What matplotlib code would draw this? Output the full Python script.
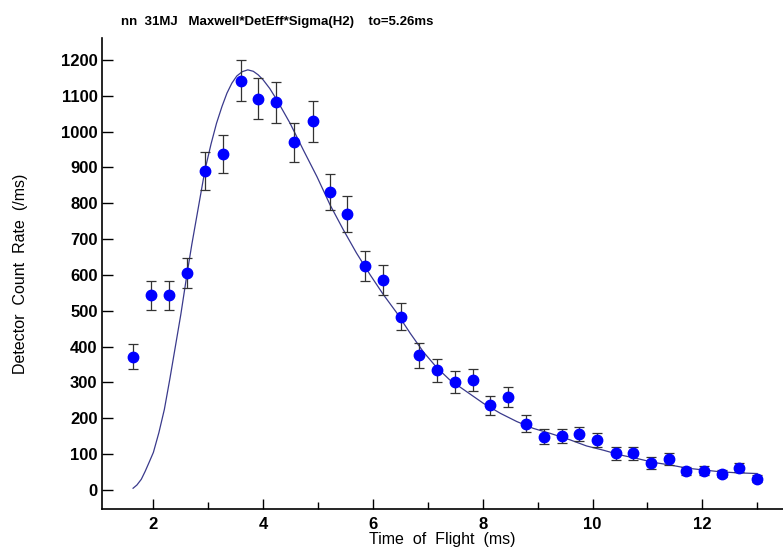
import matplotlib.pyplot as plt
from matplotlib.ticker import MultipleLocator

# measured points (time of flight in ms, count rate in /ms)
tof = [1.63, 1.96, 2.29, 2.61, 2.94, 3.27, 3.59, 3.91, 4.24, 4.57, 4.90, 5.22,
       5.53, 5.86, 6.19, 6.51, 6.84, 7.17, 7.50, 7.82, 8.13, 8.46, 8.79, 9.12,
       9.44, 9.76, 10.09, 10.42, 10.74, 11.07, 11.39, 11.71, 12.03, 12.35, 12.67, 13.00]
rate = [372, 543, 543, 606, 891, 938, 1142, 1092, 1081, 970, 1029, 831,
        770, 625, 586, 484, 376, 334, 302, 306, 236, 259, 185, 149,
        150, 156, 140, 102, 102, 75, 86, 53, 54, 46, 62, 31]
rate_err = [34, 41, 40, 42, 53, 53, 58, 57, 57, 54, 57, 50,
            49, 43, 42, 38, 35, 32, 31, 31, 27, 27, 23, 20,
            20, 20, 20, 17, 17, 16, 16, 12, 12, 10, 12, 10]

# fitted curve
fit_x = [1.63, 1.70, 1.78, 1.85, 1.93, 2.00, 2.10, 2.20, 2.30, 2.40, 2.50, 2.61,
         2.70, 2.79, 2.94, 3.05, 3.15, 3.25, 3.34, 3.43, 3.52, 3.62, 3.72, 3.82,
         3.91, 4.00, 4.12, 4.25, 4.49, 4.73, 4.98, 5.22, 5.46, 5.70, 5.95,
         6.19, 6.43, 6.68, 6.92, 7.16, 7.40, 7.71, 8.01, 8.32, 8.62, 8.92, 9.23,
         9.59, 9.89, 10.2, 10.5, 10.81, 11.11, 11.41, 11.72, 12.02, 12.32, 12.63, 13.0]
fit_y = [5, 14, 30, 52, 80, 105, 160, 225, 310, 400, 490, 600,
         685, 763, 893, 965, 1023, 1070, 1107, 1135, 1155, 1167, 1172, 1168,
         1158, 1144, 1120, 1088, 1023, 949, 874, 795, 726, 661, 600,
         545, 495, 437, 385, 342, 307, 274, 242, 214, 191, 172, 158,
         140, 123, 111, 98, 88, 77, 70, 61, 56, 51, 48, 46]

y_ticks = list(range(0, 1201, 100))

fig = plt.figure(figsize=(7.83, 5.5), dpi=100)
ax = fig.add_axes([0.130, 0.0745, 0.870, 0.8565])

ax.plot(fit_x, fit_y, '-', color='#3a3a8c', lw=0.9, zorder=2)
ax.errorbar(tof, rate, yerr=rate_err, fmt='o', color='#0000ff', ms=7.5,
            ecolor='#333333', elinewidth=0.9, capsize=3.5, capthick=0.9, zorder=3)

ax.set_xlim(1.06, 13.47)
ax.set_ylim(-53, 1261)
ax.set_yticks(y_ticks)
ax.xaxis.set_major_locator(MultipleLocator(2))
ax.xaxis.set_minor_locator(MultipleLocator(1))
ax.set_xticks([2, 4, 6, 8, 10, 12])

for s in ['top', 'right']:
    ax.spines[s].set_visible(False)
for s in ['left', 'bottom']:
    ax.spines[s].set_linewidth(1.2)

ax.tick_params(axis='y', direction='in', length=8, width=1, pad=3)
ax.tick_params(axis='x', which='major', direction='in', length=7.5, width=1, pad=6)
ax.tick_params(axis='x', which='minor', direction='in', length=5, width=1)
for lab in ax.get_xticklabels() + ax.get_yticklabels():
    lab.set_fontfamily('Liberation Sans')
    lab.set_fontweight('bold')
    lab.set_fontsize(12)

ax.set_xlabel('Time  of  Flight  (ms)', family='Liberation Sans', fontsize=11.5, labelpad=0)
ax.set_ylabel('Detector  Count  Rate  (/ms)', family='Liberation Sans', fontsize=11.5, labelpad=24)

fig.text(277 / 783, 1 - 22 / 550, 'nn  31MJ   Maxwell*DetEff*Sigma(H2)    to=5.26ms',
         family='Liberation Sans', fontweight='bold', fontsize=9.5,
         ha='center', va='center')

fig.savefig('out.png', dpi=100)
